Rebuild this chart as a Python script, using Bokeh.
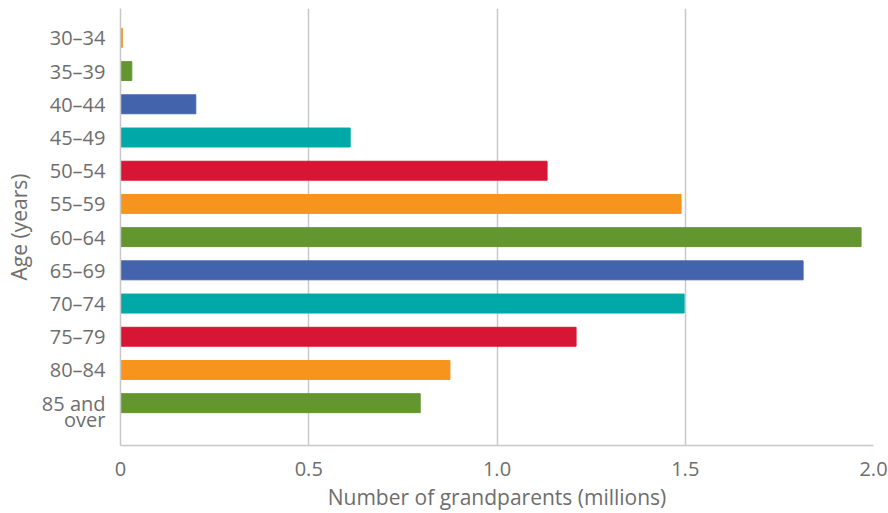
from bokeh.plotting import figure
from bokeh.models import Range1d, FixedTicker, ColumnDataSource
from bokeh.embed import file_html
from bokeh.resources import INLINE

ages = ["30–34", "35–39", "40–44", "45–49", "50–54", "55–59", "60–64",
        "65–69", "70–74", "75–79", "80–84", "85 and\nover"]
grandparents_millions = [0.005, 0.03, 0.20, 0.61, 1.133, 1.489, 1.967,
                         1.813, 1.497, 1.21, 0.875, 0.796]
bar_colors = ["#F7941E", "#63962F", "#4364AD", "#00A8A8", "#D71635"]
x_ticks = [0, 0.5, 1.0, 1.5, 2.0]
x_tick_labels = ["0", "0.5", "1.0", "1.5", "2.0"]

idx = list(range(len(ages)))
src = ColumnDataSource(dict(
    y=idx,
    v=grandparents_millions,
    c=[bar_colors[i % len(bar_colors)] for i in idx],
))

# category labels, wrapped lines placed one under the other
y_ticks, y_over = [], {}
for i, a in enumerate(ages):
    for k, line in enumerate(a.split("\n")):
        t = i + k * 0.48
        y_ticks.append(t)
        y_over[t] = line

FONT = "Open Sans"
TXT = "#6e6e6e"
GRID = "#c8c8c8"

p = figure(width=888, height=513, output_backend="svg", toolbar_location=None,
           x_range=Range1d(0, 2.0), y_range=Range1d(12.275, -0.885),
           min_border_left=120, min_border_right=15, min_border_top=8,
           min_border_bottom=66)
p.hbar(y="y", right="v", left=0, height=0.57, color="c", source=src)

p.outline_line_color = None
p.background_fill_color = "white"
p.ygrid.visible = False
p.xgrid.grid_line_color = GRID
p.xgrid.grid_line_width = 1.5
p.xgrid.ticker = FixedTicker(ticks=x_ticks)

p.xaxis.ticker = FixedTicker(ticks=x_ticks)
p.xaxis.major_label_overrides = {t: l for t, l in zip(x_ticks, x_tick_labels)}
p.yaxis.ticker = FixedTicker(ticks=y_ticks)
p.yaxis.major_label_overrides = y_over

for ax in (p.xaxis[0], p.yaxis[0]):
    ax.axis_line_color = GRID
    ax.axis_line_width = 1.5
    ax.major_tick_line_color = None
    ax.minor_tick_line_color = None
    ax.major_tick_out = 0
    ax.minor_tick_out = 0
    ax.major_label_text_font = FONT
    ax.major_label_text_font_size = "20px"
    ax.major_label_text_color = TXT
    ax.axis_label_text_font = FONT
    ax.axis_label_text_font_size = "21px"
    ax.axis_label_text_font_style = "normal"
    ax.axis_label_text_color = TXT

p.xaxis.axis_label = "Number of grandparents (millions)"
p.yaxis.axis_label = "Age (years)"
p.xaxis.major_label_standoff = 16
p.xaxis.axis_label_standoff = 4
p.yaxis.major_label_standoff = 15
p.yaxis.axis_label_standoff = 6

open("out.html", "w").write(file_html(p, INLINE))
